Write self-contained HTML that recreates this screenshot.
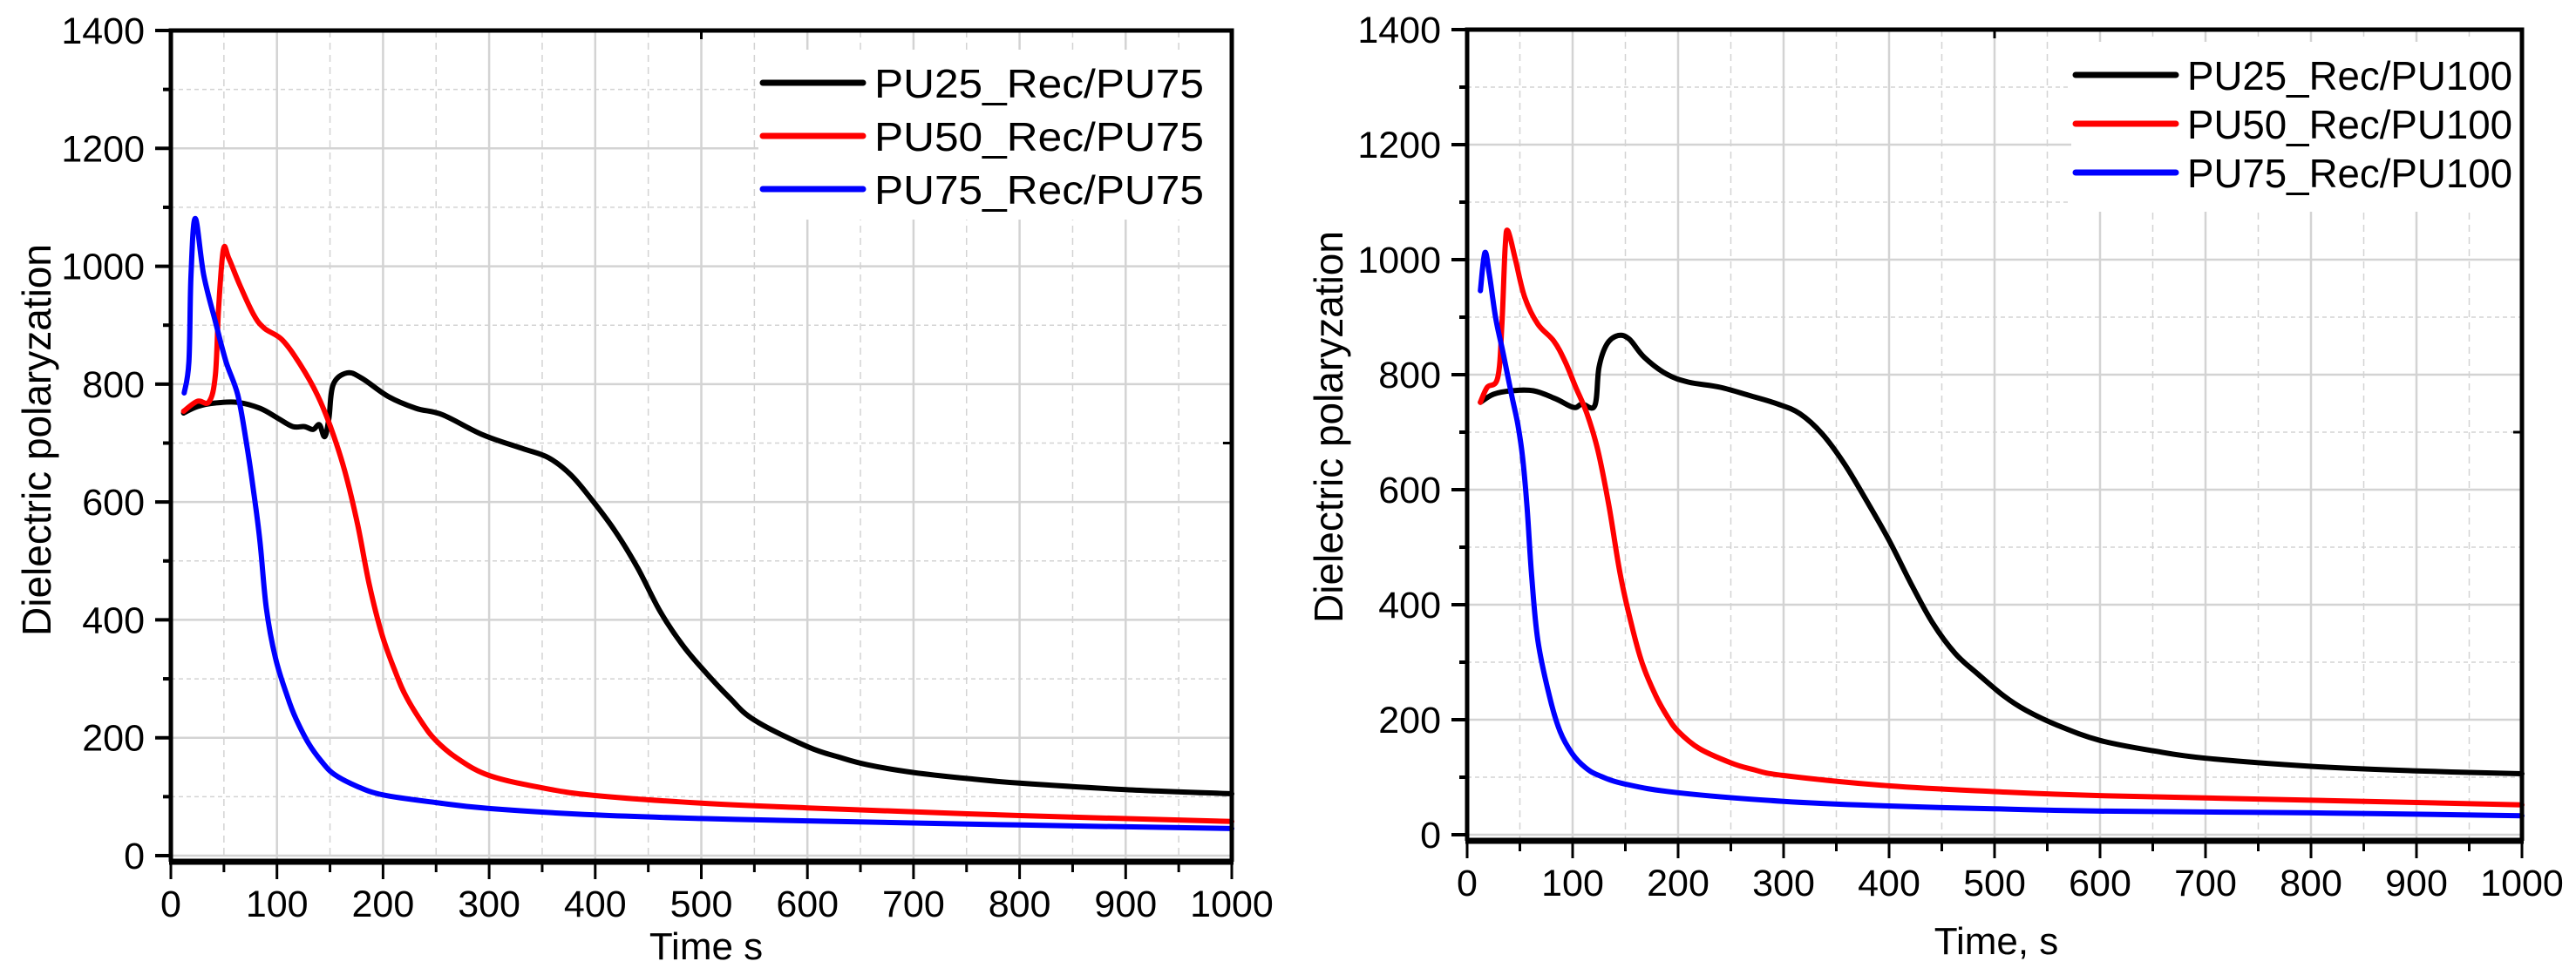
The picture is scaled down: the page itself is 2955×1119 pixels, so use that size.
<!DOCTYPE html>
<html><head><meta charset="utf-8">
<style>
html,body{margin:0;padding:0;background:#fff;}
svg{display:block;font-family:"Liberation Sans",Arial,sans-serif;}
</style></head>
<body>
<svg id="chart" width="2955" height="1119" viewBox="0 0 2955 1119" xmlns="http://www.w3.org/2000/svg">
<rect width="2955" height="1119" fill="#fff"/>
</svg>
<script>
// ---------- data: left panel (PU75) ----------
const leftBlackX = [12,25,42,63,84,101,115,126,134,140,145,149,153,166,180,205,231,256,294,331,356,377,398,419,440,461,482,503,526,550,600,630,657,700,750,800,900,1000];
const leftBlackY = [751,762,768,769,759,742,728,728,723,731,711,742,799,819,810,779,759,748,714,691,675,646,601,550,488,415,358,313,269,230,185,167,154,141,131,123,112,105];
const leftRedX = [12,25,36,42,45,49.5,54.5,65,78,88,105,122,138,151,164,176,187,199,212,222,237,250,270,300,350,400,500,600,800,1000];
const leftRedY = [754,771,770,816,929,1028,1014,968,918,895,875,833,782,725,652,562,460,375,310,269,225,195,165,136,115,102,89,81,68,58];
const leftBlueX = [12.6,17,19,23,31,42,52,63,71,78,84,90,98.5,110,118,130,142,154,175,200,250,300,400,500,600,800,1000];
const leftBlueY = [785,838,985,1081,985,906,838,782,703,618,533,420,336,269,232,190,160,138,118,103,90,80,69,63,59,52,46];
// ---------- data: right panel (PU100) ----------
const rightBlackX = [12.6,25,42,63,84,101,109,121,125,132.5,143,153.6,168,189,210,240,269,294.5,315.5,336.6,357.6,378.6,400,420.7,441.7,462.8,483.8,509,530,560,600,650,700,800,900,1000];
const rightBlackY = [752,766,772,772,758,743,749,746,813,853,868,862,830,801,787,778,763,749,732,697,645,581,512,437,367,315,280,241,216,190,164,146,133,119,111,106];
const rightRedX = [12.6,19,29,33,36,38.7,46,54.7,67,82,92.6,103,113.6,124,134.6,145,155.6,166,179,190,200,220,250,270,300,400,500,600,800,1000];
const rightRedY = [752,778,795,888,1021,1050,998,934,888,859,824,778,732,668,570,454,367,298,241,205,180,150,125,114,103,85,75,68,60,52];
const rightBlueX = [12.6,16.8,21,27,33.7,42,48,52.6,56.8,61,67,78,88,100,112,125,150,200,300,400,500,600,800,1000];
const rightBlueY = [946,1012,975,899,841,766,714,656,570,454,338,241,180,140,117,103,88,73,58,50,45,41,38,33];
const xTicks = [0,100,200,300,400,500,600,700,800,900,1000];
const yTicks = [0,200,400,600,800,1000,1200,1400];
const leftLegend = ["PU25_Rec/PU75","PU50_Rec/PU75","PU75_Rec/PU75"];
const rightLegend = ["PU25_Rec/PU100","PU50_Rec/PU100","PU75_Rec/PU100"];
const colors = ["#000000","#ff0000","#0000ff"];

const NS = "http://www.w3.org/2000/svg";
const svg = document.getElementById('chart');
function mk(tag, attrs, parent){
  const e = document.createElementNS(NS, tag);
  for (const k in attrs) e.setAttribute(k, attrs[k]);
  (parent||svg).appendChild(e);
  return e;
}
function smoothPath(p){
  let d = `M${p[0][0].toFixed(1)},${p[0][1].toFixed(1)}`;
  const t = 0.35;
  for (let i = 0; i < p.length - 1; i++) {
    const p0 = p[Math.max(0, i - 1)], p1 = p[i], p2 = p[i + 1], p3 = p[Math.min(p.length - 1, i + 2)];
    const c1x = p1[0] + (p2[0] - p0[0]) * t / 2, c1y = p1[1] + (p2[1] - p0[1]) * t / 2;
    const c2x = p2[0] - (p3[0] - p1[0]) * t / 2, c2y = p2[1] - (p3[1] - p1[1]) * t / 2;
    d += ` C${c1x.toFixed(1)},${c1y.toFixed(1)} ${c2x.toFixed(1)},${c2y.toFixed(1)} ${p2[0].toFixed(1)},${p2[1].toFixed(1)}`;
  }
  return d;
}

function panel(cfg){
  const g = mk('g', {});
  
  
  const xs = v => cfg.x0 + (cfg.x1 - cfg.x0) * v / 1000;
  const ys = v => cfg.y0 - (cfg.y0 - cfg.y1) * v / 1400;
  for (let v = 50; v < 1000; v += 50) {
    const major = v % 100 === 0;
    const ln = mk('line', {x1: xs(v), x2: xs(v), y1: cfg.y1, y2: cfg.axisY,
      stroke: '#d3d3d3', 'stroke-width': major ? 2.5 : 1.5, 'stroke-dasharray': major ? '' : '8,6'}, g);
    
    
  }
  for (let v = 0; v < 1400; v += 100) {
    const major = v % 200 === 0;
    const ln = mk('line', {x1: cfg.x0, x2: cfg.x1, y1: ys(v), y2: ys(v),
      stroke: '#d3d3d3', 'stroke-width': major ? 2.5 : 1.5, 'stroke-dasharray': major ? '' : '5,4'}, g);
    
    
  }
  const lb = mk('rect', {x: cfg.legX - 5, y: cfg.legY - 38, width: cfg.x1 - cfg.legX + 3, height: 195, fill: '#fff'}, g);
  
  
  cfg.series.forEach((s, i) => {
    const pts = s.x.map((xv, j) => [xs(xv), ys(s.y[j])]);
    const pl = mk('path', {d: smoothPath(pts), fill: 'none', stroke: colors[i], 'stroke-width': 6,
      'stroke-linejoin': 'round', 'stroke-linecap': 'round'}, g);
    
    
  });
  const fr = mk('path', {d: `M${cfg.x0},${cfg.axisY} L${cfg.x0},${cfg.y1} L${cfg.x1},${cfg.y1} L${cfg.x1},${cfg.axisY}`,
    fill: 'none', stroke: '#000', 'stroke-width': 5}, g);
  
  
  const xa = mk('line', {x1: cfg.x0 - 2, x2: cfg.x1 + 2, y1: cfg.axisY, y2: cfg.axisY, stroke: '#000', 'stroke-width': 7}, g);
  
  
  for (let v = 0; v <= 1000; v += 50) {
    const major = v % 100 === 0;
    const t = mk('line', {x1: xs(v), x2: xs(v), y1: cfg.axisY, y2: cfg.axisY + (major ? 20 : 12), stroke: '#000', 'stroke-width': 3}, g);
    
    
  }
  const tt = mk('line', {x1: xs(500), x2: xs(500), y1: cfg.y1, y2: cfg.y1 + 10, stroke: '#000', 'stroke-width': 3}, g);
  
  
  const rt = mk('line', {x1: cfg.x1, x2: cfg.x1 - 10, y1: ys(700), y2: ys(700), stroke: '#000', 'stroke-width': 3}, g);
  
  
  xTicks.forEach(v => {
    const t = mk('text', {x: xs(v), y: cfg.axisY + 63, 'text-anchor': 'middle', 'font-size': 43, fill: '#000'}, g);
    t.textContent = v;
    
    
  });
  for (let v = 0; v <= 1400; v += 100) {
    const major = v % 200 === 0;
    const t = mk('line', {x1: cfg.x0 - (major ? 18 : 9), x2: cfg.x0, y1: ys(v), y2: ys(v), stroke: '#000', 'stroke-width': 4}, g);
    
    
  }
  yTicks.forEach(v => {
    const t = mk('text', {x: cfg.x0 - 30, y: ys(v) + 15, 'text-anchor': 'end', 'font-size': 43, fill: '#000'}, g);
    t.textContent = v;
    
    
  });
  const xt = mk('text', {x: cfg.xTitleX, y: cfg.xTitleY, 'text-anchor': 'middle', 'font-size': 44, fill: '#000'}, g);
  xt.textContent = cfg.xTitle;
  
  
  const yt = mk('text', {x: 0, y: 0, 'text-anchor': 'middle', 'font-size': 46, fill: '#000',
    transform: `translate(${cfg.yTitleX},${cfg.yTitleY}) rotate(-90)`}, g);
  yt.textContent = 'Dielectric polaryzation';
  
  
  cfg.legend.forEach((lab, i) => {
    const yy = cfg.legY + i * cfg.legStep;
    const ln = mk('line', {x1: cfg.legX, x2: cfg.legX + 115, y1: yy, y2: yy, stroke: colors[i], 'stroke-width': 7, 'stroke-linecap': 'round'}, g);
    
    
    const t = mk('text', {x: cfg.legX + 128, y: yy + 17, 'font-size': 46, fill: '#000',
      textLength: cfg.legTextLen, lengthAdjust: 'spacingAndGlyphs'}, g);
    t.textContent = lab;
    
    
  });
}

panel({name: 'left-chart-pu75', x0: 196, x1: 1413, y0: 982, y1: 35, axisY: 989,
  series: [{x: leftBlackX, y: leftBlackY}, {x: leftRedX, y: leftRedY}, {x: leftBlueX, y: leftBlueY}],
  legend: leftLegend, legX: 875, legY: 95, legStep: 61, legTextLen: 378,
  xTitle: 'Time s', xTitleX: 810, xTitleY: 1101, yTitleX: 58, yTitleY: 505});
panel({name: 'right-chart-pu100', x0: 1683, x1: 2893, y0: 958, y1: 34, axisY: 965,
  series: [{x: rightBlackX, y: rightBlackY}, {x: rightRedX, y: rightRedY}, {x: rightBlueX, y: rightBlueY}],
  legend: rightLegend, legX: 2381, legY: 86, legStep: 56, legTextLen: 373,
  xTitle: 'Time, s', xTitleX: 2290, xTitleY: 1095, yTitleX: 1540, yTitleY: 490});
</script>
</body></html>
